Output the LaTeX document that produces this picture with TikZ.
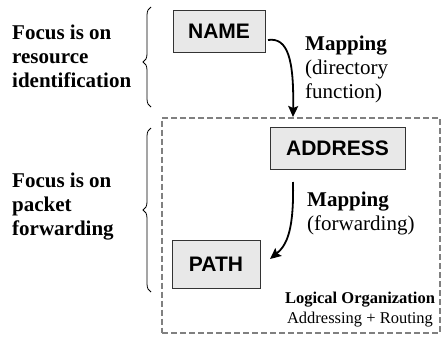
\documentclass[tikz,border=0pt]{standalone}
\usepackage{fontspec}
\setmainfont{Liberation Serif}
\setsansfont{Liberation Sans}
\usetikzlibrary{arrows.meta,decorations.pathreplacing}
\definecolor{boxfill}{HTML}{E8E8E8}
\definecolor{dashgray}{HTML}{808080}
\tikzset{
  x=1pt,y=-1pt,
  labelbox/.style={draw=black!80,line width=0.9pt,fill=boxfill,inner sep=0pt,
    font=\sffamily\bfseries\fontsize{21}{24}\selectfont},
  focustext/.style={anchor=base west,align=left,inner sep=0pt,
    font=\bfseries\fontsize{21}{24}\selectfont},
  maptext/.style={anchor=base west,align=left,inner sep=0pt,
    font=\fontsize{21}{24}\selectfont},
  bracestyle/.style={draw,line width=0.8pt,decorate,decoration={brace,amplitude=8pt,aspect=#1}},
  bracestyle/.default=0.5,
  maparrow/.style={draw,line width=1.8pt,-{Stealth[length=11pt,width=10pt,inset=2pt]}},
}
\begin{document}
\begin{tikzpicture}
\useasboundingbox (0,0) rectangle (443,338);
% organization box
\node (org) [draw=dashgray,line width=2pt,dash pattern=on 6pt off 3pt,
  minimum width=278pt,minimum height=215pt,inner sep=0pt] at (301,225) {};
% boxes
\node (name) [labelbox,minimum width=92pt,minimum height=42pt] at (219,31) {NAME};
\node (address) [labelbox,minimum width=135pt,minimum height=42pt] at (337.5,148) {ADDRESS};
\node (path) [labelbox,minimum width=88pt,minimum height=48pt] at (216,264) {PATH};
% left texts (anchor = baseline of last line)
\node (f1) [focustext] at (12,87) {Focus is on\\resource\\identification};
\node (f2) [focustext] at (12,235) {Focus is on\\packet\\forwarding};
% braces
\coordinate (b1s) at (151,107);
\coordinate (b1e) at (151,7);
\coordinate (b2s) at (151,292);
\coordinate (b2e) at (151,128);
\draw[bracestyle=0.45] (b1s) -- (b1e);
\draw[bracestyle=0.5] (b2s) -- (b2e);
% mapping labels
\node (m1) [maptext] at (305,98) {\textbf{Mapping}\\(directory\\function)};
\node (m2) [maptext] at (307,230) {\textbf{Mapping}\\(forwarding)};
\node (lo) [align=center,inner sep=0pt,anchor=base,
  font=\fontsize{16.5}{20}\selectfont] at (360,323) {\textbf{Logical Organization}\\Addressing + Routing};
% arrows
\coordinate (a1s) at (268,40);
\coordinate (a1e) at (293,117);
\coordinate (a2s) at (293,182);
\coordinate (a2e) at (270,259);
\draw[maparrow] (a1s) .. controls (288,37) and (294,60) .. (a1e);
\draw[maparrow] (a2s) .. controls (294,230) and (287,245) .. (a2e);
\end{tikzpicture}
\end{document}
